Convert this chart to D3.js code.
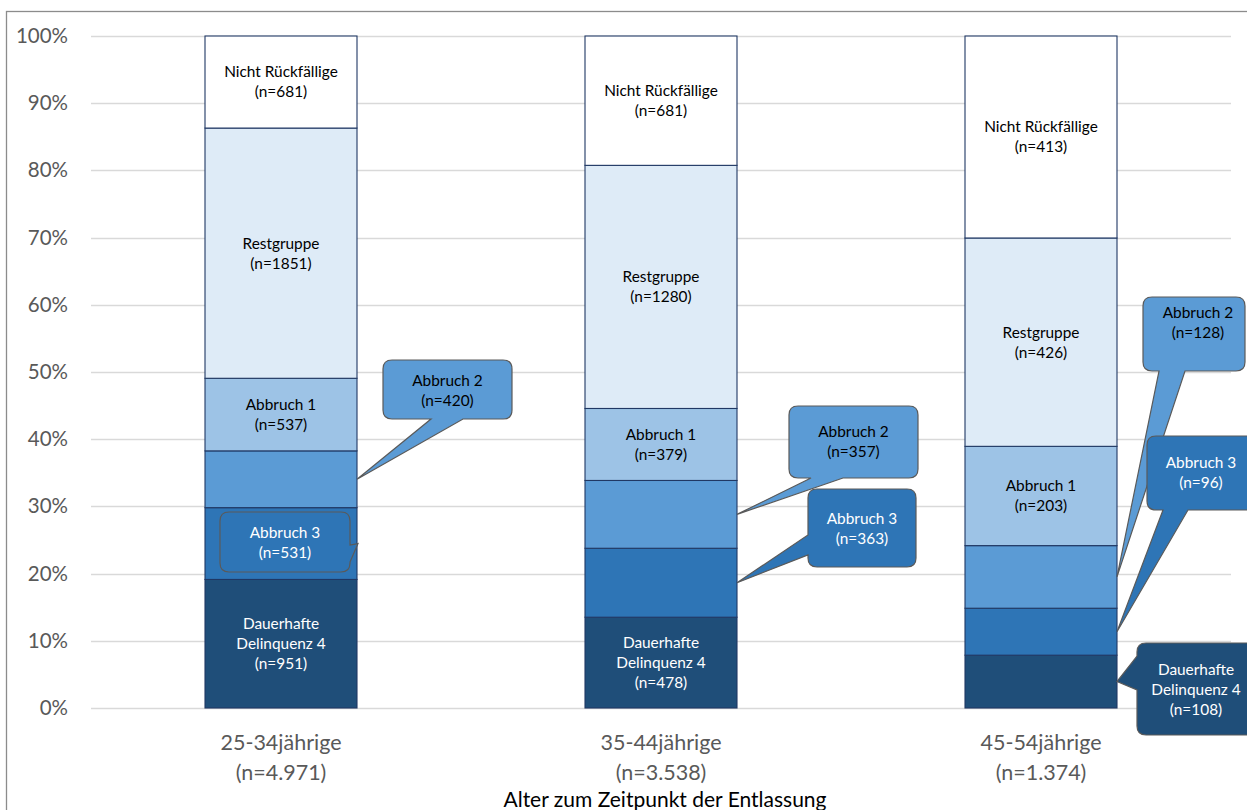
<!DOCTYPE html>
<html><head><meta charset="utf-8">
<script src="https://cdn.jsdelivr.net/npm/d3@7"></script>
<style>
html,body{margin:0;padding:0;background:#fff;}
svg{display:block;font-family:Lato,"Open Sans",sans-serif;}
</style></head>
<body>
<svg id="chart" width="1247" height="810"></svg>
<script>
// ---------- data ----------
const categories = ["25-34jährige", "35-44jährige", "45-54jährige"];
const categoryTotals = ["n=4.971", "n=3.538", "n=1.374"];
const seriesNames = ["Dauerhafte Delinquenz 4", "Abbruch 3", "Abbruch 2", "Abbruch 1", "Restgruppe", "Nicht Rückfällige"];
const dauerhafte = [951, 478, 108];
const abbruch3   = [531, 363, 96];
const abbruch2   = [420, 357, 128];
const abbruch1   = [537, 379, 203];
const restgruppe = [1851, 1280, 426];
const nichtRueck = [681, 681, 413];
const yTicks = [0, 0.1, 0.2, 0.3, 0.4, 0.5, 0.6, 0.7, 0.8, 0.9, 1.0];
const axisTitle = "Alter zum Zeitpunkt der Entlassung";

// ---------- styles ----------
const colors = ["#1f4e79", "#2e75b6", "#5b9bd5", "#9dc3e6", "#deebf7", "#ffffff"];
const textColors = ["#ffffff", "#ffffff", "#000000", "#000000", "#000000", "#000000"];
const seriesValues = [dauerhafte, abbruch3, abbruch2, abbruch1, restgruppe, nichtRueck];
const labelLines = [["Dauerhafte", "Delinquenz 4"], ["Abbruch 3"], ["Abbruch 2"], ["Abbruch 1"], ["Restgruppe"], ["Nicht Rückfällige"]];

// which segments are labelled inside the bar: [series index, category index]
const inBarLabels = [[5,0],[5,1],[5,2],[4,0],[4,1],[4,2],[3,0],[3,1],[3,2],[0,0],[0,1]];

// callout layout (pixel offsets relative to bar right edge; vertical in px)
const callouts = [
  {s:2, c:0, bx0:26, bx1:155, top:360, bottom:419, side:"bottom", p0:48, p1:80, tOff:21},
  {s:1, c:0, bx0:-137, bx1:-7, top:512, bottom:572, side:"right", p0:545, p1:562, tOff:21, tipDx:1},
  {s:2, c:1, bx0:52, bx1:181, top:406, bottom:478, side:"bottom", p0:22, p1:54, tOff:26},
  {s:1, c:1, bx0:71, bx1:179, top:489, bottom:567, side:"left", p0:535, p1:555, tOff:30},
  {s:2, c:2, bx0:26, bx1:128, top:297, bottom:371, side:"bottom", p0:16, p1:42, tOff:16},
  {s:1, c:2, bx0:30, bx1:140, top:436, bottom:510, side:"bottom", p0:16, p1:41, tOff:27},
  {s:0, c:2, bx0:20, bx1:140, top:643, bottom:735, side:"left", p0:656, p1:690, tOff:27}
];

// ---------- build ----------
const svg = d3.select("#chart");
const x = d3.scaleBand().domain(categories).range([91, 1231]).paddingInner(0.6).paddingOuter(0.3);
const y = d3.scaleLinear().domain([0, 1]).range([708, 36]);

const totals = categories.map((c, i) => seriesValues.reduce((a, s) => a + s[i], 0));
const table = categories.map((c, i) => {
  const row = {cat: c};
  seriesNames.forEach((n, k) => row[n] = seriesValues[k][i] / totals[i]);
  return row;
});
const stacked = d3.stack().keys(seriesNames)(table);

// outer border
svg.append("rect").attr("x", 6.5).attr("y", 11.5).attr("width", 1260).attr("height", 820)
  .attr("fill", "none").attr("stroke", "#8c8c8c").attr("stroke-width", 1.3);

// gridlines
svg.append("g").selectAll("line").data(yTicks).join("line")
  .attr("x1", 91).attr("x2", 1231)
  .attr("y1", d => Math.round(y(d)) + 0.5).attr("y2", d => Math.round(y(d)) + 0.5)
  .attr("stroke", "#d9d9d9").attr("stroke-width", 1.3);

// y axis labels
const yAxis = d3.axisLeft(y).tickValues(yTicks).tickFormat(d3.format(".0%")).tickSize(0).tickPadding(0);
const yg = svg.append("g").attr("transform", "translate(68,0)").call(yAxis);
yg.select(".domain").remove();
yg.selectAll("text").attr("font-size", 20.5).attr("fill", "#595959").attr("font-family", "Lato");

// bars
const segG = svg.append("g");
stacked.forEach((layer, k) => {
  segG.append("g").selectAll("rect").data(layer).join("rect")
    .attr("x", d => x(d.data.cat))
    .attr("width", x.bandwidth())
    .attr("y", d => y(d[1]))
    .attr("height", d => y(d[0]) - y(d[1]))
    .attr("fill", colors[k])
    .attr("stroke", "#203864").attr("stroke-width", 1.1);
});

function drawLines(g, lines, cx, cy, color) {
  const lh = 20;
  const t = g.append("text").attr("text-anchor", "middle").attr("font-size", 15.4)
    .attr("fill", color).attr("font-family", "Lato");
  const y0 = cy - (lines.length - 1) * lh / 2;
  lines.forEach((l, i) => t.append("tspan").attr("x", cx).attr("y", y0 + i * lh).attr("dy", "0.35em").text(l));
}

// in-bar labels
const lblG = svg.append("g");
inBarLabels.forEach(([s, c]) => {
  const d = stacked[s][c];
  const cx = x(categories[c]) + x.bandwidth() / 2;
  const cy = (y(d[0]) + y(d[1])) / 2;
  drawLines(lblG, labelLines[s].concat(["(n=" + seriesValues[s][c] + ")"]), cx, cy, textColors[s]);
});

// callouts
function calloutPath(x0, y0, x1, y1, r, side, p0, p1, tx, ty) {
  let p = `M${x0 + r},${y0} L${x1 - r},${y0} Q${x1},${y0} ${x1},${y0 + r} `;
  if (side === "right") p += `L${x1},${p0} L${tx},${ty} L${x1},${p1} `;
  p += `L${x1},${y1 - r} Q${x1},${y1} ${x1 - r},${y1} `;
  if (side === "bottom") p += `L${p1},${y1} L${tx},${ty} L${p0},${y1} `;
  p += `L${x0 + r},${y1} Q${x0},${y1} ${x0},${y1 - r} `;
  if (side === "left") p += `L${x0},${p1} L${tx},${ty} L${x0},${p0} `;
  p += `L${x0},${y0 + r} Q${x0},${y0} ${x0 + r},${y0} Z`;
  return p;
}
const coG = svg.append("g");
callouts.forEach(co => {
  const d = stacked[co.s][co.c];
  const right = x(categories[co.c]) + x.bandwidth();
  const tx = right + (co.tipDx || 0);
  const ty = (y(d[0]) + y(d[1])) / 2;
  const x0 = right + co.bx0, x1 = right + co.bx1;
  let p0 = co.p0, p1 = co.p1;
  if (co.side === "bottom") { p0 = x0 + co.p0; p1 = x0 + co.p1; }
  coG.append("path")
    .attr("d", calloutPath(x0, co.top, x1, co.bottom, 9, co.side, p0, p1, tx, ty))
    .attr("fill", colors[co.s]).attr("stroke", "#5a5a5a").attr("stroke-width", 1.2);
  const lines = labelLines[co.s].concat(["(n=" + seriesValues[co.s][co.c] + ")"]);
  const cx = co.c === 2 ? (x0 + Math.min(x1, 1247)) / 2 + 4 : (x0 + x1) / 2;
  const first = co.top + co.tOff;
  drawLines(coG, lines, cx, first + (lines.length - 1) * 10, textColors[co.s]);
});

// category labels
const catG = svg.append("g");
categories.forEach((c, i) => {
  const cx = x(c) + x.bandwidth() / 2;
  catG.append("text").attr("x", cx).attr("y", 742).attr("dy", "0.35em").attr("text-anchor", "middle")
    .attr("font-size", 21.5).attr("fill", "#595959").text(c);
  catG.append("text").attr("x", cx).attr("y", 772).attr("dy", "0.35em").attr("text-anchor", "middle")
    .attr("font-size", 21.5).attr("fill", "#595959").text("(" + categoryTotals[i] + ")");
});

// axis title
svg.append("text").attr("x", (91 + 1231) / 2 + 4).attr("y", 800).attr("dy", "0.35em")
  .attr("text-anchor", "middle").attr("font-size", 21).attr("fill", "#000").text(axisTitle);
</script>
</body></html>
